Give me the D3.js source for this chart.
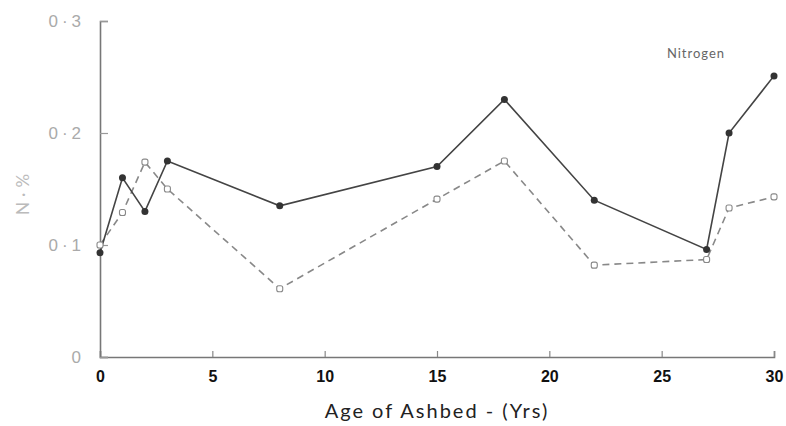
<!DOCTYPE html>
<html>
<head>
<meta charset="utf-8">
<script src="https://cdn.jsdelivr.net/npm/d3@7"></script>
<style>
  body { margin: 0; background: #fff; }
  svg { display: block; font-family: "Lato", "DejaVu Sans", sans-serif; }
</style>
</head>
<body>
<div class="graph"></div>
<script>
var ages = [0, 1, 2, 3, 8, 15, 18, 22, 27, 28, 30];
var solidValues = [0.093, 0.160, 0.130, 0.175, 0.135, 0.170, 0.230, 0.140, 0.096, 0.200, 0.251];
var openAges = [0, 1, 2, 3, 8, 15, 18, 22, 27, 28, 30];
var openValues = [0.100, 0.129, 0.174, 0.150, 0.061, 0.141, 0.175, 0.082, 0.087, 0.133, 0.143];
var xTicks = [0, 5, 10, 15, 20, 25, 30];
var yTicks = [0, 0.1, 0.2, 0.3];
var yTickLabels = ["0", "0·1", "0·2", "0·3"];

var width = 786;
var height = 426;

var svg = d3.select(".graph").append("svg")
  .attr("width", width)
  .attr("height", height);

var x = d3.scaleLinear()
  .domain([0, 30])
  .range([100, 774]);

var y = d3.scaleLinear()
  .domain([0, 0.3])
  .range([357, 21]);

// axes
var xAxis = d3.axisBottom(x)
  .tickValues(xTicks)
  .tickSize(-6)
  .tickPadding(14);

var xAxisGroup = svg.append("g")
  .attr("transform", "translate(0," + y(0) + ")")
  .call(xAxis);

xAxisGroup.select(".domain").attr("stroke", "#777").attr("stroke-width", 1.6);
xAxisGroup.selectAll(".tick line").attr("stroke", "#888").attr("stroke-width", 1.2);
xAxisGroup.selectAll(".tick text")
  .attr("fill", "#111")
  .style("font-size", "16px")
  .style("font-weight", "600");

var yAxis = d3.axisLeft(y)
  .tickValues(yTicks)
  .tickFormat(function (d, i) { return yTickLabels[i]; })
  .tickSize(-8)
  .tickPadding(15);

var yAxisGroup = svg.append("g")
  .attr("transform", "translate(" + x(0) + ",0)")
  .call(yAxis);

yAxisGroup.select(".domain").attr("stroke", "#777").attr("stroke-width", 1.6);
yAxisGroup.selectAll(".tick line").attr("stroke", "#999").attr("stroke-width", 1.2);
yAxisGroup.selectAll(".tick text")
  .attr("fill", "#aaa")
  .style("font-size", "17px")
  .style("letter-spacing", "4px");

// series
var solidData = ages.map(function (a, i) { return {x: a, y: solidValues[i]}; });
var openData = openAges.map(function (a, i) { return {x: a, y: openValues[i]}; });

var line = d3.line()
  .x(d => x(d.x))
  .y(d => y(d.y));

svg.append("path")
  .data([openData])
  .attr("fill", "none")
  .attr("stroke", "#888")
  .attr("stroke-width", 1.6)
  .style("stroke-dasharray", "7, 5")
  .attr("d", line);

svg.append("path")
  .data([solidData])
  .attr("fill", "none")
  .attr("stroke", "#444")
  .attr("stroke-width", 1.6)
  .attr("d", line);

svg.selectAll(".open")
  .data(openData)
  .enter().append("rect")
  .attr("class", "open")
  .attr("x", d => x(d.x) - 3)
  .attr("y", d => y(d.y) - 3)
  .attr("width", 6)
  .attr("height", 6)
  .attr("rx", 2)
  .attr("fill", "#fff")
  .attr("stroke", "#888")
  .attr("stroke-width", 1.1);

svg.selectAll(".solid")
  .data(solidData)
  .enter().append("circle")
  .attr("class", "solid")
  .attr("cx", d => x(d.x))
  .attr("cy", d => y(d.y))
  .attr("r", 3.5)
  .attr("fill", "#333");

// labels
svg.append("text")
  .attr("x", 696)
  .attr("y", 58)
  .style("text-anchor", "middle")
  .style("font-size", "13px")
  .style("letter-spacing", "1px")
  .attr("fill", "#666")
  .text("Nitrogen");

svg.append("text")
  .attr("transform", "translate(29,192) rotate(-90)")
  .style("text-anchor", "middle")
  .style("font-size", "17px")
  .style("letter-spacing", "5px")
  .attr("fill", "#bbb")
  .text("N·%");

svg.append("text")
  .attr("x", 437)
  .attr("y", 418)
  .style("text-anchor", "middle")
  .style("font-size", "20px")
  .style("letter-spacing", "2px")
  .attr("fill", "#222")
  .text("Age of Ashbed - (Yrs)");
</script>
</body>
</html>
